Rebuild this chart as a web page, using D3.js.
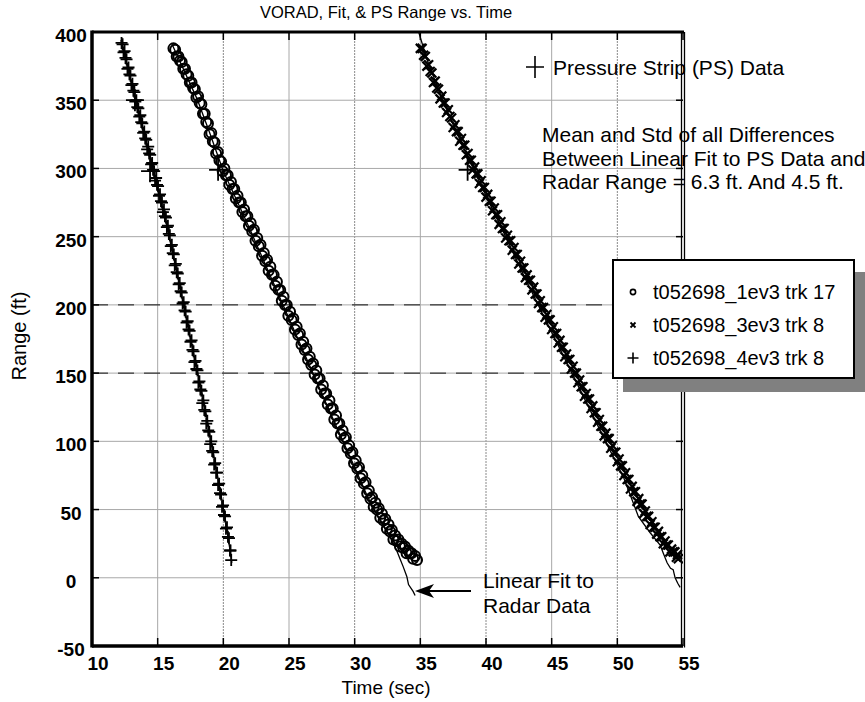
<!DOCTYPE html>
<html>
<head>
<meta charset="utf-8">
<script src="https://cdn.jsdelivr.net/npm/d3@7/dist/d3.min.js"></script>
<style>
  body { margin: 0; background: #fff; }
  svg { display: block; font-family: "Liberation Sans", Arial, sans-serif; }
</style>
</head>
<body>
<svg id="chart"></svg>
<script>
// tick values
var xTicks = [10, 15, 20, 25, 30, 35, 40, 45, 50, 55];
var yTicks = [-50, 0, 50, 100, 150, 200, 250, 300, 350, 400];

// t052698_1ev3 trk 17 (circles), two interleaved sweeps
var s1Time = [16.20, 16.45, 16.70, 16.95, 17.20, 17.45, 17.70, 17.95, 18.20, 18.45, 18.70, 18.95, 19.20, 19.45, 19.70, 19.95,
  20.20, 20.45, 20.70, 20.95, 21.20, 21.45, 21.70, 21.95, 22.20, 22.45, 22.70, 22.95, 23.20, 23.45, 23.70, 23.95,
  24.20, 24.45, 24.70, 24.95, 25.20, 25.45, 25.70, 25.95, 26.20, 26.45, 26.70, 26.95, 27.20, 27.45, 27.70, 27.95,
  28.20, 28.45, 28.70, 28.95, 29.20, 29.45, 29.70, 29.95, 30.20, 30.45, 30.70, 30.95, 31.20, 31.45, 31.70, 31.95,
  32.20, 32.45, 32.70, 32.95, 33.20, 33.45, 33.70, 33.95, 34.20, 34.45, 34.75];
var s1Range = [388, 382, 379, 373, 369, 363, 359, 352, 348, 340, 334, 325, 320, 311, 306, 298,
  295, 288, 285, 278, 275, 268, 265, 258, 254, 247, 243, 236, 232, 225, 222, 214,
  211, 203, 200, 192, 189, 182, 178, 171, 167, 160, 156, 149, 146, 138, 135, 127,
  124, 116, 113, 105, 102, 95, 91, 84, 80, 73, 69, 62, 58, 52, 50, 44,
  42, 36, 34, 28, 27, 23, 22, 18, 18, 14, 13];
var s1TimeB = [16.33, 16.58, 16.83, 17.08, 17.33, 17.58, 17.83, 18.08, 18.33, 18.58, 18.83, 19.08, 19.33, 19.58, 19.83, 20.08,
  20.33, 20.58, 20.83, 21.08, 21.33, 21.58, 21.83, 22.08, 22.33, 22.58, 22.83, 23.08, 23.33, 23.58, 23.83, 24.08,
  24.33, 24.58, 24.83, 25.08, 25.33, 25.58, 25.83, 26.08, 26.33, 26.58, 26.83, 27.08, 27.33, 27.58, 27.83, 28.08,
  28.33, 28.58, 28.83, 29.08, 29.33, 29.58, 29.83, 30.08, 30.33, 30.58, 30.83, 31.08, 31.33, 31.58, 31.83, 32.08,
  32.33, 32.58, 32.83, 33.08, 33.33, 33.58, 33.83, 34.08, 34.33, 34.60];
var s1RangeB = [387, 382, 378, 373, 368, 363, 358, 353, 347, 340, 333, 326, 319, 312, 305, 300,
  295, 290, 285, 280, 275, 270, 265, 260, 255, 249, 244, 238, 233, 228, 222, 217,
  211, 206, 200, 195, 190, 184, 179, 173, 168, 162, 157, 152, 146, 141, 135, 130,
  124, 119, 113, 108, 103, 97, 92, 86, 81, 75, 70, 64, 59, 55, 51, 47,
  43, 39, 35, 31, 28, 25, 23, 20, 18, 16];
var s1FitTime = [16.05, 17.0, 18.0, 19.0, 20.0, 21.0, 22.0, 24.0, 26.0, 28.0, 30.0, 31.0, 32.0, 32.7, 33.2, 33.45, 33.7, 33.97, 34.1, 34.45, 34.6];
var s1FitRange = [392, 372, 351, 325, 298, 277, 256, 212, 168, 124, 81, 59, 41, 30, 20, 14, 8, 1, -5, -10, -13];

// t052698_3ev3 trk 8 (x marks)
var s2Time = [35.00, 35.25, 35.50, 35.75, 36.00, 36.25, 36.50, 36.75, 37.00, 37.25, 37.50, 37.75, 38.00, 38.25, 38.50, 38.75,
  39.00, 39.25, 39.50, 39.75, 40.00, 40.25, 40.50, 40.75, 41.00, 41.25, 41.50, 41.75, 42.00, 42.25, 42.50, 42.75,
  43.00, 43.25, 43.50, 43.75, 44.00, 44.25, 44.50, 44.75, 45.00, 45.25, 45.50, 45.75, 46.00, 46.25, 46.50, 46.75,
  47.00, 47.25, 47.50, 47.75, 48.00, 48.25, 48.50, 48.75, 49.00, 49.25, 49.50, 49.75, 50.00, 50.25, 50.50, 50.75,
  51.00, 51.25, 51.50, 51.75, 52.00, 52.25, 52.50, 52.75, 53.00, 53.25, 53.50, 53.75, 54.00, 54.25, 54.50, 54.65];
var s2Range = [388, 383, 375, 371, 363, 359, 351, 348, 341, 338, 330, 327, 320, 317, 310, 306,
  299, 296, 289, 286, 279, 276, 269, 266, 259, 256, 249, 247, 240, 237, 230, 227,
  220, 218, 211, 208, 201, 198, 191, 189, 182, 179, 172, 169, 162, 160, 153, 150,
  143, 140, 133, 131, 124, 121, 114, 111, 104, 102, 95, 92, 85, 82, 75, 72,
  65, 63, 56, 54, 47, 45, 39, 37, 32, 30, 25, 24, 19, 19, 15, 14];
var s2TimeB = [35.13, 35.38, 35.63, 35.88, 36.13, 36.38, 36.63, 36.88, 37.13, 37.38, 37.63, 37.88, 38.13, 38.38, 38.63, 38.88,
  39.13, 39.38, 39.63, 39.88, 40.13, 40.38, 40.63, 40.88, 41.13, 41.38, 41.63, 41.88, 42.13, 42.38, 42.63, 42.88,
  43.13, 43.38, 43.63, 43.88, 44.13, 44.38, 44.63, 44.88, 45.13, 45.38, 45.63, 45.88, 46.13, 46.38, 46.63, 46.88,
  47.13, 47.38, 47.63, 47.88, 48.13, 48.38, 48.63, 48.88, 49.13, 49.38, 49.63, 49.88, 50.13, 50.38, 50.63, 50.88,
  51.13, 51.38, 51.63, 51.88, 52.13, 52.38, 52.63, 52.88, 53.13, 53.38, 53.63, 53.88, 54.13, 54.38, 54.58];
var s2RangeB = [388, 382, 376, 370, 364, 358, 353, 348, 343, 337, 332, 327, 322, 317, 311, 306,
  301, 296, 291, 286, 281, 276, 271, 266, 261, 256, 251, 247, 242, 237, 232, 227,
  222, 218, 213, 208, 203, 198, 193, 189, 184, 179, 174, 169, 164, 160, 155, 150,
  145, 140, 135, 131, 126, 121, 116, 111, 106, 102, 97, 92, 87, 82, 77, 72,
  67, 63, 58, 54, 49, 45, 41, 37, 34, 30, 27, 24, 21, 19, 17];
var s2FitTime = [34.75, 35.5, 36.5, 37.5, 38.5, 39.5, 40.5, 41.5, 43.0, 45.0, 47.0, 49.0, 50.5, 51.6, 52.5, 53.26, 53.5, 53.79, 54.05, 54.25, 54.4, 54.6, 54.78];
var s2FitRange = [404, 380, 355, 332, 311, 290, 270, 250, 219, 180, 141, 102, 73, 45, 33, 24, 18, 11, 7, 6, 0, -4, -7];

// t052698_4ev3 trk 8 (plus marks)
var s3Time = [12.25, 12.40, 12.55, 12.70, 12.85, 13.00, 13.15, 13.30, 13.45, 13.60, 13.75, 13.90, 14.05, 14.20, 14.35, 14.50,
  14.65, 14.80, 14.95, 15.10, 15.25, 15.40, 15.55, 15.70, 15.85, 16.00, 16.15, 16.30, 16.45, 16.60, 16.75, 16.90,
  17.05, 17.20, 17.35, 17.50, 17.65, 17.80, 17.95, 18.10, 18.25, 18.40, 18.55, 18.70, 18.85, 19.00, 19.15, 19.30,
  19.45, 19.60, 19.75, 19.90, 20.05, 20.20, 20.35, 20.50, 20.60];
var s3Range = [392, 385, 381, 373, 369, 361, 357, 349, 345, 338, 334, 326, 322, 314, 311, 303,
  299, 291, 288, 280, 276, 268, 265, 257, 252, 243, 238, 229, 224, 215, 210, 201,
  196, 187, 182, 173, 167, 158, 153, 143, 138, 128, 123, 113, 108, 98, 93, 83,
  77, 68, 62, 52, 46, 36, 30, 20, 13];
var s3TimeB = [12.33, 12.48, 12.63, 12.78, 12.93, 13.08, 13.23, 13.38, 13.53, 13.68, 13.83, 13.98, 14.13, 14.28, 14.43, 14.58,
  14.73, 14.88, 15.03, 15.18, 15.33, 15.48, 15.63, 15.78, 15.93, 16.08, 16.23, 16.38, 16.53, 16.68, 16.83, 16.98,
  17.13, 17.28, 17.43, 17.58, 17.73, 17.88, 18.03, 18.18, 18.33, 18.48, 18.63, 18.78, 18.93, 19.08, 19.23, 19.38,
  19.53, 19.68, 19.83, 19.98, 20.13, 20.28, 20.43, 20.55];
var s3RangeB = [391, 386, 380, 374, 368, 362, 356, 350, 344, 339, 333, 327, 321, 316, 310, 304,
  298, 293, 287, 281, 275, 270, 264, 258, 251, 244, 237, 230, 223, 216, 209, 202,
  195, 188, 181, 174, 166, 159, 152, 144, 137, 130, 122, 115, 107, 100, 92, 84,
  77, 69, 61, 53, 45, 37, 29, 20];
var s3FitTime = [12.2, 13.3, 14.6, 15.6, 16.5, 17.5, 18.5, 19.5, 20.2, 20.65];
var s3FitRange = [394, 350, 300, 262, 223, 175, 130, 78, 40, 11];

// pressure strip (PS) points
var psTime = [13.27, 14.42, 19.6, 38.6];
var psRange = [350, 298, 299, 299];

var legendLabels = ["t052698_1ev3 trk 17", "t052698_3ev3 trk 8", "t052698_4ev3 trk 8"];
var noteLines = ["Mean and Std of all Differences", "Between Linear Fit to PS Data and", "Radar Range = 6.3 ft. And 4.5 ft."];

var W = 865, H = 702;
var plot = {left: 92, right: 683, top: 32, bottom: 646};

var svg = d3.select("#chart").attr("width", W).attr("height", H);

var x = d3.scaleLinear().domain([10, 55]).range([plot.left, plot.right]);
var y = d3.scaleLinear().domain([-50, 400]).range([plot.bottom, plot.top]);

svg.append("defs").append("clipPath").attr("id", "clip")
  .append("rect")
  .attr("x", plot.left).attr("y", plot.top)
  .attr("width", plot.right - plot.left).attr("height", plot.bottom - plot.top);

// grid
var grid = svg.append("g");
grid.selectAll(".vg")
  .data(xTicks.slice(1, -1)).enter().append("line")
  .attr("x1", function(d) { return x(d); }).attr("x2", function(d) { return x(d); })
  .attr("y1", plot.top).attr("y2", plot.bottom)
  .style("stroke", function(d) { return d % 10 == 0 ? "#8a8a8a" : "#a8a8a8"; })
  .style("stroke-dasharray", function(d) { return d % 10 == 0 ? "2,1" : null; })
  .style("stroke-width", 1);
grid.selectAll(".hg")
  .data(yTicks.slice(1, -1)).enter().append("line")
  .attr("x1", plot.left).attr("x2", plot.right)
  .attr("y1", function(d) { return y(d); }).attr("y2", function(d) { return y(d); })
  .style("stroke", "#a8a8a8")
  .style("stroke-width", 1);
// darker dashed pieces on the 200 and 150 lines
grid.selectAll(".hd")
  .data([200, 150]).enter().append("line")
  .attr("x1", plot.left).attr("x2", plot.right)
  .attr("y1", function(d) { return y(d); }).attr("y2", function(d) { return y(d); })
  .style("stroke", "#111")
  .style("stroke-dasharray", "16,10")
  .style("stroke-width", 1);

// ticks (inside)
var ticks = svg.append("g").style("stroke", "#000").style("stroke-width", 1.5);
yTicks.forEach(function(v) {
  ticks.append("line").attr("x1", plot.left).attr("x2", plot.left + 7).attr("y1", y(v)).attr("y2", y(v));
  ticks.append("line").attr("x1", plot.right - 7).attr("x2", plot.right).attr("y1", y(v)).attr("y2", y(v));
});
xTicks.forEach(function(v) {
  ticks.append("line").attr("x1", x(v)).attr("x2", x(v)).attr("y1", plot.bottom).attr("y2", plot.bottom - 8);
  ticks.append("line").attr("x1", x(v)).attr("x2", x(v)).attr("y1", plot.top).attr("y2", plot.top + 8);
});

var data = svg.append("g").attr("clip-path", "url(#clip)");
var line = d3.line().x(function(d) { return x(d[0]); }).y(function(d) { return y(d[1]); });
function pairs(t, r) { return t.map(function(v, i) { return [v, r[i]]; }); }

// fitted lines (thin)
[[s1FitTime, s1FitRange], [s2FitTime, s2FitRange], [s3FitTime, s3FitRange]].forEach(function(s) {
  data.append("path")
    .attr("d", line(pairs(s[0], s[1])))
    .style("fill", "none").style("stroke", "#000").style("stroke-width", 1.3);
});

function xMark(s) { return "M" + (-s) + "," + (-s) + "L" + s + "," + s + "M" + (-s) + "," + s + "L" + s + "," + (-s); }
function plusMark(s) { return "M" + (-s) + ",0H" + s + "M0," + (-s) + "V" + s; }
function place(d) { return "translate(" + x(d[0]) + "," + y(d[1]) + ")"; }

// markers
data.selectAll(".s1").data(pairs(s1Time, s1Range).concat(pairs(s1TimeB, s1RangeB))).enter().append("circle")
  .attr("cx", function(d) { return x(d[0]); }).attr("cy", function(d) { return y(d[1]); })
  .attr("r", 5)
  .style("fill", "none").style("stroke", "#000").style("stroke-width", 2);

data.selectAll(".s2").data(pairs(s2Time, s2Range).concat(pairs(s2TimeB, s2RangeB))).enter().append("path")
  .attr("transform", place)
  .attr("d", xMark(4.5))
  .style("stroke", "#000").style("stroke-width", 2.2);

data.selectAll(".s3").data(pairs(s3Time, s3Range).concat(pairs(s3TimeB, s3RangeB))).enter().append("path")
  .attr("transform", place)
  .attr("d", plusMark(6))
  .style("stroke", "#000").style("stroke-width", 1.8);

data.selectAll(".ps").data(pairs(psTime, psRange)).enter().append("path")
  .attr("transform", place)
  .attr("d", "M-9,0H9M0,-11V11")
  .style("stroke", "#000").style("stroke-width", 1.8);

// frame
var frame = svg.append("g").style("stroke", "#000").style("fill", "none");
frame.append("line").attr("x1", plot.left).attr("x2", plot.left).attr("y1", plot.top - 1.5).attr("y2", plot.bottom + 1.5).style("stroke-width", 3.5);
frame.append("line").attr("x1", plot.left).attr("x2", plot.right).attr("y1", plot.bottom).attr("y2", plot.bottom).style("stroke-width", 3.5);
frame.append("line").attr("x1", plot.left).attr("x2", plot.right + 1).attr("y1", plot.top).attr("y2", plot.top).style("stroke-width", 3);
frame.append("line").attr("x1", plot.right - 1.5).attr("x2", plot.right - 1.5).attr("y1", plot.top).attr("y2", plot.bottom).style("stroke-width", 1.3);
frame.append("line").attr("x1", plot.right + 1.5).attr("x2", plot.right + 1.5).attr("y1", plot.top).attr("y2", plot.bottom + 1.5).style("stroke-width", 1.3);

// tick labels
svg.append("g").selectAll("text").data(xTicks).enter().append("text")
  .attr("x", function(d) { return x(d) + 6; }).attr("y", 670)
  .attr("text-anchor", "middle")
  .style("font-size", "19px").style("font-weight", "bold")
  .text(function(d) { return d; });
svg.append("g").selectAll("text").data(yTicks).enter().append("text")
  .attr("x", 71).attr("y", function(d) { return y(d) + 10; })
  .attr("text-anchor", "middle")
  .style("font-size", "19px").style("font-weight", "bold")
  .text(function(d) { return d; });

// titles
svg.append("text").attr("x", 386).attr("y", 18).attr("text-anchor", "middle")
  .style("font-size", "16.5px").text("VORAD, Fit, & PS Range vs. Time");
svg.append("text").attr("x", 386).attr("y", 694).attr("text-anchor", "middle")
  .style("font-size", "19px").text("Time (sec)");
svg.append("text").attr("transform", "translate(26,336) rotate(-90)").attr("text-anchor", "middle")
  .style("font-size", "20px").text("Range (ft)");

// PS note
svg.append("path").attr("transform", "translate(535,67)").attr("d", "M-9,0H9M0,-11V11")
  .style("stroke", "#000").style("stroke-width", 1.6);
svg.append("text").attr("x", 553).attr("y", 75).style("font-size", "21px").text("Pressure Strip (PS) Data");

svg.append("g").selectAll("text").data(noteLines).enter().append("text")
  .attr("x", 542).attr("y", function(d, i) { return 142 + i * 23.5; })
  .style("font-size", "21px").text(function(d) { return d; });

// fit annotation + arrow
svg.append("text").attr("x", 483).attr("y", 588).style("font-size", "21px").text("Linear Fit to");
svg.append("text").attr("x", 483).attr("y", 613).style("font-size", "21px").text("Radar Data");
svg.append("line").attr("x1", 471).attr("x2", 428).attr("y1", 591).attr("y2", 591)
  .style("stroke", "#000").style("stroke-width", 2);
svg.append("path").attr("d", "M415,591L434,584L429,591L434,598Z").style("fill", "#000");

// legend
var lg = svg.append("g");
lg.append("rect").attr("x", 623).attr("y", 272).attr("width", 250).attr("height", 120).style("fill", "#808080");
lg.append("rect").attr("x", 613).attr("y", 260).attr("width", 241).attr("height", 118)
  .style("fill", "#fff").style("stroke", "#000").style("stroke-width", 2);
var rowY = [292, 325, 358];
lg.append("circle").attr("cx", 633).attr("cy", rowY[0]).attr("r", 2.6)
  .style("fill", "none").style("stroke", "#000").style("stroke-width", 1.6);
lg.append("path").attr("transform", "translate(633," + rowY[1] + ")").attr("d", xMark(2.5))
  .style("stroke", "#000").style("stroke-width", 1.8);
lg.append("path").attr("transform", "translate(633," + rowY[2] + ")").attr("d", plusMark(5.5))
  .style("stroke", "#000").style("stroke-width", 1.6);
lg.selectAll(".lt").data(legendLabels).enter().append("text")
  .attr("x", 653).attr("y", function(d, i) { return rowY[i] + 7; })
  .style("font-size", "20px").text(function(d) { return d; });
</script>
</body>
</html>
